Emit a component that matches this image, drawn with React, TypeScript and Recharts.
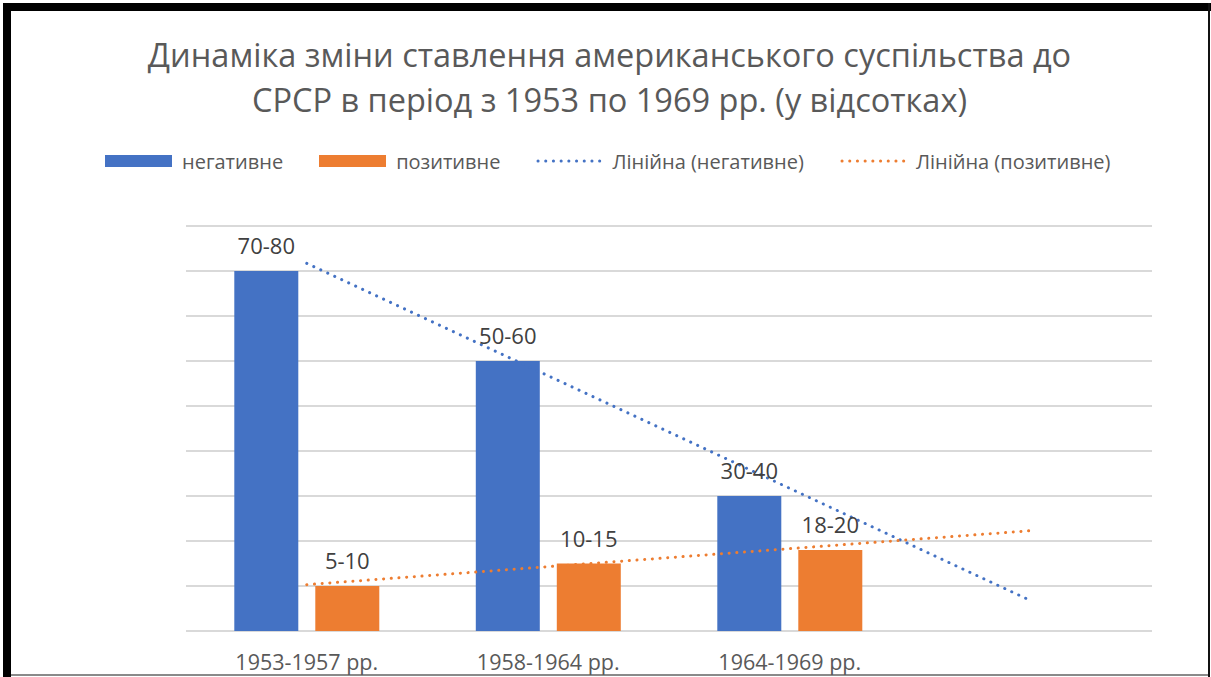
import {
  Bar,
  CartesianGrid,
  ComposedChart,
  LabelList,
  ReferenceLine,
  XAxis,
  YAxis,
} from "recharts";

const categories = ["1953-1957 рр.", "1958-1964 рр.", "1964-1969 рр.", " "];
const negative = [80, 60, 30];
const positive = [10, 15, 18];
const negativeLabels = ["70-80", "50-60", "30-40"];
const positiveLabels = ["5-10", "10-15", "18-20"];
// linear trend ends (first and last category)
const negativeTrend = [81.7, 6.7];
const positiveTrend = [10.3, 22.3];
const yTicks = [0, 10, 20, 30, 40, 50, 60, 70, 80, 90];

const BLUE = "#4472C4";
const ORANGE = "#ED7D31";
const FONT = "'Open Sans', sans-serif";

const data = categories.map((name, i) => ({
  name,
  negative: negative[i],
  positive: positive[i],
  negLabel: negativeLabels[i],
  posLabel: positiveLabels[i],
}));

const legend = [
  { label: "негативне", color: BLUE, dotted: false },
  { label: "позитивне", color: ORANGE, dotted: false },
  { label: "Лінійна (негативне)", color: BLUE, dotted: true },
  { label: "Лінійна (позитивне)", color: ORANGE, dotted: true },
];

const labelStyle = { fill: "#404040", fontSize: 22, fontFamily: FONT };

export default function App() {
  const first = categories[0];
  const last = categories[categories.length - 1];
  return (
    <div
      style={{
        position: "relative",
        width: 1211,
        height: 677,
        background: "#fff",
        fontFamily: FONT,
        overflow: "hidden",
      }}
    >
      <style>{`body{margin:0}`}</style>
      {/* frame */}
      <div style={{ position: "absolute", left: 3, top: 3, width: 1208, height: 8, background: "#000" }} />
      <div style={{ position: "absolute", left: 3, top: 3, width: 8, height: 674, background: "#000" }} />
      <div style={{ position: "absolute", left: 1208, top: 3, width: 2, height: 674, background: "#111" }} />
      <div style={{ position: "absolute", left: 11, top: 674, width: 1197, height: 2, background: "#8a8a8a" }} />

      <div
        style={{
          position: "absolute",
          left: 11,
          top: 32,
          width: 1197,
          textAlign: "center",
          fontSize: 32.5,
          lineHeight: "45px",
          color: "#595959",
        }}
      >
        Динаміка зміни ставлення американського суспільства до
        <br />
        СРСР в період з 1953 по 1969 рр. (у відсотках)
      </div>

      <div
        style={{
          position: "absolute",
          left: 105,
          top: 147,
          display: "flex",
          alignItems: "center",
          height: 28,
          fontSize: 20,
          color: "#595959",
        }}
      >
        {legend.map((l) => (
          <div key={l.label} style={{ display: "flex", alignItems: "center", marginRight: 36 }}>
            {l.dotted ? (
              <svg width={66} height={12} style={{ marginRight: 10 }}>
                <line
                  x1={2}
                  y1={6}
                  x2={64}
                  y2={6}
                  stroke={l.color}
                  strokeWidth={3}
                  strokeDasharray="0.1 7.6"
                  strokeLinecap="round"
                />
              </svg>
            ) : (
              <div style={{ width: 67, height: 12, background: l.color, marginRight: 10 }} />
            )}
            <span>{l.label}</span>
          </div>
        ))}
      </div>

      <div style={{ position: "absolute", left: 0, top: 0 }}>
        <ComposedChart
          width={1211}
          height={677}
          data={data}
          margin={{ top: 226, left: 186, right: 59, bottom: 6 }}
          barGap={17}
          barCategoryGap="20%"
        >
          <CartesianGrid vertical={false} stroke="#d9d9d9" strokeWidth={2} />
          <XAxis
            dataKey="name"
            height={40}
            axisLine={false}
            tickLine={false}
            tickMargin={18}
            interval={0}
            tick={{ fill: "#595959", fontSize: 21.5, fontFamily: FONT }}
          />
          <YAxis hide domain={[0, 90]} ticks={yTicks} />
          <Bar dataKey="negative" fill={BLUE} isAnimationActive={false}>
            <LabelList dataKey="negLabel" position="top" offset={17} style={labelStyle} />
          </Bar>
          <Bar dataKey="positive" fill={ORANGE} isAnimationActive={false}>
            <LabelList dataKey="posLabel" position="top" offset={17} style={labelStyle} />
          </Bar>
          <ReferenceLine
            segment={[
              { x: first, y: negativeTrend[0] },
              { x: last, y: negativeTrend[1] },
            ]}
            stroke={BLUE}
            strokeWidth={3}
            strokeDasharray="0.1 7.6"
            strokeLinecap="round"
            ifOverflow="visible"
          />
          <ReferenceLine
            segment={[
              { x: first, y: positiveTrend[0] },
              { x: last, y: positiveTrend[1] },
            ]}
            stroke={ORANGE}
            strokeWidth={3}
            strokeDasharray="0.1 7.6"
            strokeLinecap="round"
            ifOverflow="visible"
          />
        </ComposedChart>
      </div>
    </div>
  );
}
